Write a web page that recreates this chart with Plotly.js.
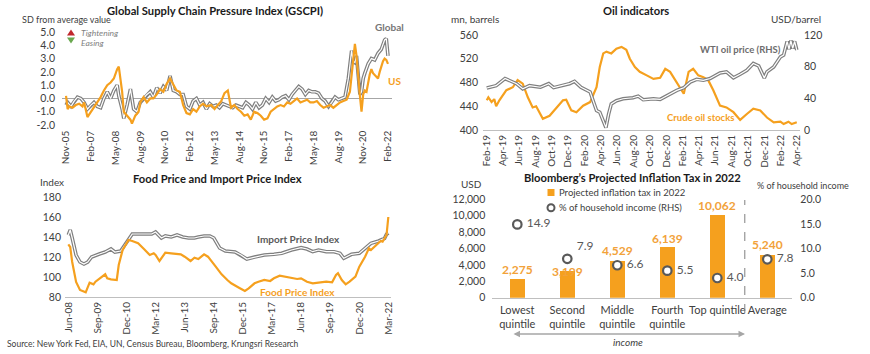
<!DOCTYPE html>
<html><head><meta charset="utf-8">
<script src="https://cdn.plot.ly/plotly-3.0.1.min.js"></script>
<style>html,body{margin:0;padding:0;background:#fff;}#chart{width:870px;height:354px;}</style>
</head><body><div id="chart"></div>
<script>
// ---------- DATA ----------
// GSCPI (SD from average value)
const gscpiGlobalDates = ['2005-11','2005-12','2006-02','2006-04','2006-06','2006-08','2006-10','2006-12','2007-02','2007-04','2007-06','2007-08','2007-10','2007-12','2008-02','2008-04','2008-06','2008-07','2008-09','2008-10','2008-12','2009-02','2009-04','2009-06','2009-08','2009-10','2009-12','2010-02','2010-04','2010-06','2010-08','2010-10','2010-12','2011-02','2011-04','2011-06','2011-08','2011-10','2011-12','2012-02','2012-04','2012-06','2012-08','2012-10','2012-12','2013-02','2013-04','2013-06','2013-08','2013-10','2013-12','2014-02','2014-04','2014-06','2014-08','2014-10','2014-12','2015-02','2015-04','2015-06','2015-08','2015-10','2015-12','2016-02','2016-04','2016-06','2016-08','2016-10','2016-12','2017-02','2017-04','2017-06','2017-08','2017-10','2017-12','2018-02','2018-04','2018-06','2018-08','2018-10','2018-12','2019-02','2019-04','2019-06','2019-08','2019-10','2019-12','2020-02','2020-04','2020-05','2020-06','2020-07','2020-08','2020-09','2020-10','2020-11','2020-12','2021-02','2021-04','2021-06','2021-08','2021-10','2021-12','2022-01','2022-02'];
const gscpiGlobal = [-0.5,-0.3,-0.6,-0.2,0.1,0.0,-0.3,-0.8,-0.5,-0.3,-0.6,-0.7,0.0,0.5,0.0,0.6,1.0,0.2,-0.8,-1.5,-0.5,0.7,-0.8,-1.0,-0.3,0.0,0.3,0.5,0.1,0.8,0.4,0.9,0.6,1.7,0.6,0.5,0.3,0.3,-0.6,-0.8,-0.2,0.0,-0.5,-0.3,-0.8,-0.4,-0.6,-0.5,-0.7,-0.4,-0.5,-0.6,-0.7,-0.5,-0.6,-0.7,-0.3,-0.5,-0.8,-0.3,-0.7,-0.5,0.0,-0.3,0.1,-0.2,-0.1,0.1,0.2,-0.1,0.3,0.6,0.9,0.7,0.3,0.6,0.5,0.5,0.4,0.0,-0.2,-0.6,-0.3,0.1,-0.1,0.0,0.1,1.5,3.6,2.8,2.7,3.2,1.5,0.3,0.5,1.5,1.9,2.6,3.0,2.9,3.4,3.7,4.4,4.5,3.2];
const gscpiUSDates = ['2005-11','2005-12','2006-01','2006-03','2006-05','2006-07','2006-09','2006-10','2006-12','2007-02','2007-04','2007-06','2007-08','2007-10','2007-12','2008-02','2008-04','2008-06','2008-07','2008-09','2008-10','2008-12','2009-02','2009-03','2009-05','2009-07','2009-08','2009-10','2009-12','2010-02','2010-04','2010-06','2010-08','2010-10','2010-12','2011-02','2011-04','2011-06','2011-08','2011-10','2011-12','2012-02','2012-04','2012-06','2012-08','2012-10','2012-12','2013-03','2013-05','2013-07','2013-09','2013-11','2014-01','2014-03','2014-05','2014-07','2014-09','2014-11','2015-01','2015-03','2015-05','2015-07','2015-09','2015-11','2016-01','2016-03','2016-05','2016-07','2016-09','2016-11','2017-01','2017-03','2017-05','2017-07','2017-09','2017-11','2018-01','2018-03','2018-05','2018-07','2018-09','2018-11','2019-01','2019-03','2019-05','2019-07','2019-09','2019-11','2020-01','2020-03','2020-05','2020-06','2020-07','2020-08','2020-09','2020-10','2020-11','2020-12','2021-01','2021-03','2021-04','2021-05','2021-07','2021-08','2021-09','2021-11','2021-12','2022-01','2022-02'];
const gscpiUS = [0.2,-0.8,-0.6,-0.7,-0.5,-0.4,-0.6,-0.3,-1.4,-1.0,-0.6,-0.3,0.1,0.6,1.0,1.2,1.5,2.2,2.4,0.5,-1.0,-1.3,-1.6,-1.9,-1.3,-1.0,-0.3,0.1,-0.3,0.0,0.0,0.3,0.7,0.5,1.1,1.5,1.1,0.6,0.5,-0.5,-1.1,-1.2,-0.8,-1.0,-0.6,-0.4,-0.6,-0.5,-0.8,-0.5,-0.2,0.4,0.6,-0.7,-0.5,-0.8,-1.0,-1.3,-1.2,-1.6,-1.0,-1.1,-1.3,-1.6,-1.5,-1.0,-0.8,-0.6,-0.5,-0.6,-0.3,-0.4,-0.2,0.0,-0.3,-0.2,-0.1,-0.3,-0.3,-0.2,-0.5,-0.7,-0.6,-0.5,-0.7,-0.5,-0.3,-0.2,-0.1,0.5,3.0,4.1,3.2,1.5,0.2,-1.0,0.3,0.6,0.5,1.8,2.2,1.9,1.6,1.5,2.0,2.8,3.0,2.9,2.6];
const gscpiTickVals = ['2005-11-01','2007-02-01','2008-05-01','2009-08-01','2010-11-01','2012-02-01','2013-05-01','2014-08-01','2015-11-01','2017-02-01','2018-05-01','2019-08-01','2020-11-01','2022-02-01'];
const gscpiTickText = ['Nov-05','Feb-07','May-08','Aug-09','Nov-10','Feb-12','May-13','Aug-14','Nov-15','Feb-17','May-18','Aug-19','Nov-20','Feb-22'];
const gscpiYVals = [-2,-1,0,1,2,3,4,5];
const gscpiYText = ['-2.0','-1.0','0.0','1.0','2.0','3.0','4.0','5.0'];

// Oil indicators
const stockDates = ['2019-02-01','2019-02-07','2019-02-19','2019-03-01','2019-03-08','2019-03-20','2019-04-15','2019-05-09','2019-05-27','2019-06-15','2019-07-04','2019-07-22','2019-08-04','2019-08-29','2019-09-23','2019-10-18','2019-11-12','2019-11-24','2019-12-13','2020-01-01','2020-01-26','2020-02-21','2020-03-16','2020-03-28','2020-04-10','2020-04-22','2020-05-10','2020-05-29','2020-06-17','2020-07-05','2020-07-18','2020-08-06','2020-08-24','2020-09-19','2020-10-14','2020-11-08','2020-11-27','2020-12-15','2021-01-03','2021-01-22','2021-02-04','2021-02-22','2021-03-11','2021-03-30','2021-04-18','2021-05-06','2021-05-25','2021-06-19','2021-07-13','2021-08-08','2021-09-02','2021-09-27','2021-10-21','2021-11-16','2021-12-11','2022-01-05','2022-01-30','2022-02-11','2022-03-01','2022-03-13','2022-04-01'];
const crudeStocks = [450,455,447,452,440,450,467,472,484,478,455,438,440,419,424,438,450,451,433,430,441,447,472,506,529,532,529,537,540,535,520,506,498,492,486,488,503,498,484,472,461,498,503,492,489,484,467,441,438,430,417,427,436,433,421,413,414,410,414,410,413];
const wtiDates = ['2019-02-01','2019-03-08','2019-04-10','2019-05-23','2019-06-15','2019-07-10','2019-08-20','2019-09-20','2019-10-08','2019-11-12','2019-12-06','2019-12-25','2020-01-18','2020-02-21','2020-03-04','2020-03-16','2020-03-28','2020-04-10','2020-04-20','2020-04-30','2020-05-10','2020-05-29','2020-06-23','2020-07-30','2020-08-18','2020-09-06','2020-10-14','2020-11-08','2020-12-15','2021-01-09','2021-02-04','2021-02-28','2021-03-24','2021-04-18','2021-05-13','2021-06-19','2021-07-13','2021-08-08','2021-09-02','2021-09-27','2021-10-21','2021-11-10','2021-12-01','2021-12-11','2022-01-05','2022-01-30','2022-02-11','2022-02-24','2022-03-03','2022-03-10','2022-03-17','2022-03-24','2022-04-01'];
const wtiPrice = [53,56,65,58.5,52,56,54,58.5,53.5,56.5,58.5,61.5,54,48,37,24.6,22.5,12,3,20,33,37,39.5,40.7,42.8,38.2,39.4,38.6,45.8,50,53.4,60.6,64,62.8,65,72,73.4,66,70.4,75.5,84,81,65.7,73.4,79.7,92.4,94.6,112,102,113,103,112,101];
const oilTickVals = ['2019-02-01','2019-04-01','2019-06-01','2019-08-01','2019-10-01','2019-12-01','2020-02-01','2020-04-01','2020-06-01','2020-08-01','2020-10-01','2020-12-01','2021-02-01','2021-04-01','2021-06-01','2021-08-01','2021-10-01','2021-12-01','2022-02-01','2022-04-01'];
const oilTickText = ['Feb-19','Apr-19','Jun-19','Aug-19','Oct-19','Dec-19','Feb-20','Apr-20','Jun-20','Aug-20','Oct-20','Dec-20','Feb-21','Apr-21','Jun-21','Aug-21','Oct-21','Dec-21','Feb-22','Apr-22'];

// Food price and import price index
const importDates = ['2008-06','2008-07','2008-08','2008-10','2008-12','2009-02','2009-04','2009-06','2009-10','2010-01','2010-04','2010-06','2010-09','2010-12','2011-03','2011-08','2012-01','2012-03','2012-06','2012-08','2012-11','2013-02','2013-05','2013-08','2013-11','2014-01','2014-04','2014-07','2014-09','2014-12','2015-03','2015-08','2015-11','2016-02','2016-06','2016-11','2017-04','2017-08','2018-01','2018-06','2018-09','2018-12','2019-03','2019-07','2019-11','2020-02','2020-04','2020-08','2020-12','2021-03','2021-06','2021-10','2022-01','2022-02','2022-03'];
const importIndex = [142,147,139,122,115,113,115,120,123,125,128,125,126,134,143,143,143,145,139,141,140,142,140,139,139,140,141,141,139,129,126,125,122,118,120,122,122.7,123.7,127,129.3,128,125.3,127,125.3,125.3,123.7,118.7,122.7,123.7,128.7,133.7,136,138.7,142.7,144];
const foodDates = ['2008-06','2008-07','2008-08','2008-10','2008-12','2009-01','2009-03','2009-05','2009-07','2009-08','2009-11','2010-01','2010-02','2010-04','2010-07','2010-08','2010-10','2011-01','2011-03','2011-06','2011-09','2011-12','2012-02','2012-03','2012-05','2012-08','2012-11','2013-04','2013-06','2013-09','2013-11','2014-01','2014-04','2014-06','2014-10','2015-01','2015-04','2015-06','2015-10','2016-01','2016-03','2016-06','2016-08','2016-11','2017-02','2017-04','2017-07','2017-10','2018-01','2018-04','2018-06','2018-09','2018-12','2019-04','2019-07','2019-10','2019-12','2020-01','2020-03','2020-05','2020-07','2020-10','2020-12','2021-03','2021-05','2021-06','2021-09','2021-11','2021-12','2022-02','2022-03'];
const foodIndex = [132.7,130,115,95,87,86,84.7,94.3,92.7,95.3,100.3,102.7,98.7,97.7,97,112,127,137,136,133.7,128,122,123.7,122,116,124.3,123.7,122.7,120.3,116,119.3,118,122.7,120.3,110.3,102.7,97,93.7,89.3,86,88.7,93.7,95.3,97,96,98.7,101.3,100.3,98.7,98,98.7,95.3,93.7,94.7,95.3,94.7,102,103.7,97,92.7,95.3,100.3,110.3,120.3,128.7,127,132,136,135.3,142,160];
const foodTickVals = ['2008-06-01','2009-09-01','2010-12-01','2012-03-01','2013-06-01','2014-09-01','2015-12-01','2017-03-01','2018-06-01','2019-09-01','2020-12-01','2022-03-01'];
const foodTickText = ['Jun-08','Sep-09','Dec-10','Mar-12','Jun-13','Sep-14','Dec-15','Mar-17','Jun-18','Sep-19','Dec-20','Mar-22'];

// Bloomberg projected inflation tax 2022
const quintiles = ['Lowest<br>quintile','Second<br>quintile','Middle<br>quintile','Fourth<br>quintile','Top quintile','Average'];
const inflationTaxUSD = [2275,3199,4529,6139,10062,5240];
const pctHouseholdIncome = [14.9,7.9,6.6,5.5,4.0,7.8];

// ---------- LAYOUT HELPERS ----------
const W = 870, H = 354;
const px = x => x / W;
const py = y => 1 - y / H;
const FONT = 'Lato, "Open Sans", sans-serif';
const ORANGE = '#F5A01E';
const GRAY = '#7f7f7f';
const TXT = '#404040';

const dbl = (x, y, xa, ya) => [
  {x, y, xaxis: xa, yaxis: ya, type: 'scatter', mode: 'lines', line: {color: GRAY, width: 3.6}, showlegend: false, hoverinfo: 'skip'},
  {x, y, xaxis: xa, yaxis: ya, type: 'scatter', mode: 'lines', line: {color: '#ffffff', width: 1.2}, showlegend: false, hoverinfo: 'skip'}
];

const traces = [
  ...dbl(gscpiGlobalDates, gscpiGlobal, 'x', 'y'),
  {x: gscpiUSDates, y: gscpiUS, xaxis: 'x', yaxis: 'y', type: 'scatter', mode: 'lines', line: {color: ORANGE, width: 2.2}, showlegend: false},
  ...dbl(wtiDates, wtiPrice, 'x2', 'y3'),
  {x: stockDates, y: crudeStocks, xaxis: 'x2', yaxis: 'y2', type: 'scatter', mode: 'lines', line: {color: ORANGE, width: 2.2}, showlegend: false},
  ...dbl(importDates, importIndex, 'x3', 'y4'),
  {x: foodDates, y: foodIndex, xaxis: 'x3', yaxis: 'y4', type: 'scatter', mode: 'lines', line: {color: ORANGE, width: 2.2}, showlegend: false},
  {x: quintiles, y: inflationTaxUSD, xaxis: 'x4', yaxis: 'y5', type: 'bar', name: 'Projected inflation tax in 2022',
   marker: {color: ORANGE}, width: 0.3, showlegend: false},
  {x: quintiles, y: pctHouseholdIncome, xaxis: 'x4', yaxis: 'y6', type: 'scatter', mode: 'markers+text', name: '% of household income (RHS)',
   marker: {symbol: 'circle', size: 8.5, color: '#ffffff', line: {color: '#595959', width: 2.2}},
   texttemplate: '\u00a0%{y:.1f}', textposition: ['middle right','top right','middle right','middle right','middle right','middle right'],
   textfont: {family: FONT, size: 12, color: '#595959'}, cliponaxis: false, showlegend: false}
];

const tickF = {family: FONT, size: 10.5, color: TXT};
const dateTickF = {family: FONT, size: 10, color: TXT};
const base = {showgrid: false, zeroline: false, ticks: '', fixedrange: true};

const layout = {
  width: W, height: H, margin: {l: 0, r: 0, t: 0, b: 0}, paper_bgcolor: '#fff', plot_bgcolor: 'rgba(0,0,0,0)',
  font: {family: FONT, color: TXT},
  showlegend: false,
  xaxis: {...base, domain: [px(62), px(392)], anchor: 'y', type: 'date', range: ['2005-08-19', '2022-04-16'],
          tickvals: gscpiTickVals, ticktext: gscpiTickText, tickangle: -90, tickfont: dateTickF, showline: false},
  yaxis: {...base, domain: [py(127.66), py(29.34)], anchor: 'x', range: [-2.2, 5.2], tickvals: gscpiYVals, ticktext: gscpiYText,
          tickfont: tickF, zeroline: true, zerolinecolor: '#a6a6a6', zerolinewidth: 1, ticklabelstandoff: 6},
  xaxis2: {...base, domain: [px(483), px(800)], anchor: 'y2', type: 'date', range: ['2019-01-18', '2022-04-13'],
           tickvals: oilTickVals, ticktext: oilTickText, tickangle: -90, tickfont: dateTickF, showline: true, linecolor: '#bfbfbf', linewidth: 1},
  yaxis2: {...base, domain: [py(130), py(35)], anchor: 'x2', range: [400, 560], dtick: 40, tick0: 400, tickfont: tickF, ticklabelstandoff: 4},
  yaxis3: {...base, overlaying: 'y2', side: 'right', anchor: 'x2', range: [0, 120], dtick: 40, tick0: 0, tickfont: tickF, ticklabelstandoff: 3},
  xaxis3: {...base, domain: [px(65), px(391)], anchor: 'y4', type: 'date', range: ['2008-04-10', '2022-04-12'],
           tickvals: foodTickVals, ticktext: foodTickText, tickangle: -90, tickfont: dateTickF, showline: true, linecolor: '#bfbfbf', linewidth: 1},
  yaxis4: {...base, domain: [py(297), py(197)], anchor: 'x3', range: [80, 180], dtick: 20, tick0: 80, tickfont: tickF, ticklabelstandoff: 3},
  xaxis4: {...base, domain: [px(492.3), px(792.3)], anchor: 'y5', type: 'category', range: [-0.5, 5.5], tickangle: 0,
           tickfont: {family: FONT, size: 11, color: TXT}, showline: true, linecolor: '#bfbfbf', linewidth: 1, ticklabelstandoff: 2},
  yaxis5: {...base, domain: [py(297.7), py(199.3)], anchor: 'x4', range: [0, 12000], dtick: 2000, tickformat: ',d', tickfont: tickF, ticklabelstandoff: 6},
  yaxis6: {...base, overlaying: 'y5', side: 'right', anchor: 'x4', range: [0, 20], dtick: 5, tickformat: '.1f', tickfont: tickF, ticklabelstandoff: 7},
  bargap: 0,
  shapes: [
    {type: 'line', xref: 'x4', yref: 'paper', x0: 4.55, x1: 4.55, y0: py(313), y1: py(200), line: {color: GRAY, width: 1, dash: 'dash'}},
    {type: 'path', xref: 'paper', yref: 'paper', path: `M ${px(67)} ${py(35.5)} L ${px(75)} ${py(35.5)} L ${px(71)} ${py(29.5)} Z`, fillcolor: '#C0282D', line: {width: 0}},
    {type: 'path', xref: 'paper', yref: 'paper', path: `M ${px(67)} ${py(37.5)} L ${px(75)} ${py(37.5)} L ${px(71)} ${py(43.5)} Z`, fillcolor: '#6AA84F', line: {width: 0}},
    // legend keys for the inflation-tax chart
    {type: 'rect', xref: 'paper', yref: 'paper', x0: px(547.5), x1: px(554.5), y0: py(196), y1: py(189), fillcolor: ORANGE, line: {width: 0}},
    {type: 'circle', xref: 'paper', yref: 'paper', x0: px(547.5), x1: px(554.5), y0: py(211.2), y1: py(204.2), fillcolor: '#ffffff', line: {color: '#595959', width: 2}}
  ],
  annotations: []
};

const ann = (text, x, y, opts = {}) => Object.assign({text, x: px(x), y: py(y), xref: 'paper', yref: 'paper', showarrow: false,
  xanchor: 'left', yanchor: 'middle', font: {family: FONT, size: 10, color: TXT}}, opts);
const bold = (t) => '<b>' + t + '</b>';
const TITLE = {family: FONT, size: 11.2, color: '#1a1a1a'};

// value labels above the bars (vertical offset in px per bar, style only)
const taxLabelShift = [10, 0, 10, 9, 10, 10];
quintiles.forEach((q, i) => {
  layout.annotations.push({text: '<b>' + inflationTaxUSD[i].toLocaleString('en-US') + '</b>', x: q, y: inflationTaxUSD[i],
    xref: 'x4', yref: 'y5', showarrow: false, xanchor: 'center', yanchor: 'middle', yshift: taxLabelShift[i],
    font: {family: FONT, size: 12, color: '#F2A23A'}});
});

layout.annotations.push(
  ann(bold('Global Supply Chain Pressure Index (GSCPI)'), 215, 11, {xanchor: 'center', font: TITLE}),
  ann(bold('Oil indicators'), 636, 11, {xanchor: 'center', font: TITLE}),
  ann(bold('Food Price and Import Price Index'), 218, 178, {xanchor: 'center', font: TITLE}),
  ann(bold('Bloomberg’s Projected Inflation Tax in 2022'), 632, 177, {xanchor: 'center', font: TITLE}),
  ann('SD from average value', 20, 19, {font: {family: FONT, size: 9, color: TXT}}),
  ann('<i>Tightening</i>', 79, 33, {font: {family: FONT, size: 8.5, color: GRAY}}),
  ann('<i>Easing</i>', 79, 43, {font: {family: FONT, size: 8.5, color: GRAY}}),
  ann(bold('Global'), 373, 27, {font: {family: FONT, size: 10, color: '#767676'}}),
  ann(bold('US'), 386, 81, {font: {family: FONT, size: 10, color: ORANGE}}),
  ann('mn, barrels', 449, 19, {font: {family: FONT, size: 10, color: TXT}}),
  ann('USD/barrel', 823, 19, {xanchor: 'right', font: {family: FONT, size: 10, color: TXT}}),
  ann(bold('WTI oil price (RHS)'), 698, 49, {font: {family: FONT, size: 9.5, color: '#6d6d6d'}}),
  ann(bold('Crude oil stocks'), 665, 118, {font: {family: FONT, size: 9.5, color: ORANGE}}),
  ann('Index', 38, 182, {font: {family: FONT, size: 10, color: TXT}}),
  ann(bold('Import Price Index'), 255, 239, {font: {family: FONT, size: 10, color: '#595959'}}),
  ann(bold('Food Price Index'), 258, 292, {font: {family: FONT, size: 10, color: ORANGE}}),
  ann('Source: New York Fed, EIA, UN, Census Bureau, Bloomberg, Krungsri Research', 5, 344, {font: {family: FONT, size: 8.5, color: TXT}}),
  ann('USD', 459, 184, {font: {family: FONT, size: 10, color: TXT}}),
  ann('% of household income', 851, 185, {xanchor: 'right', font: {family: FONT, size: 9, color: TXT}}),
  ann('Projected inflation tax in 2022', 557, 192.5, {font: {family: FONT, size: 9.5, color: TXT}}),
  ann('% of household income (RHS)', 557, 207.7, {font: {family: FONT, size: 9.5, color: TXT}}),
  ann('<i>income</i>', 628, 342, {xanchor: 'center', font: {family: FONT, size: 10, color: TXT}}),
  {text: '', xref: 'paper', yref: 'paper', x: px(745), y: py(334), ax: -233, ay: 0, axref: 'pixel', ayref: 'pixel',
   showarrow: true, arrowhead: 2, startarrowhead: 2, arrowside: 'end+start', arrowsize: 1, arrowwidth: 1.3, arrowcolor: '#a6a6a6'}
);

Plotly.newPlot('chart', traces, layout, {staticPlot: true, displayModeBar: false});
</script></body></html>
